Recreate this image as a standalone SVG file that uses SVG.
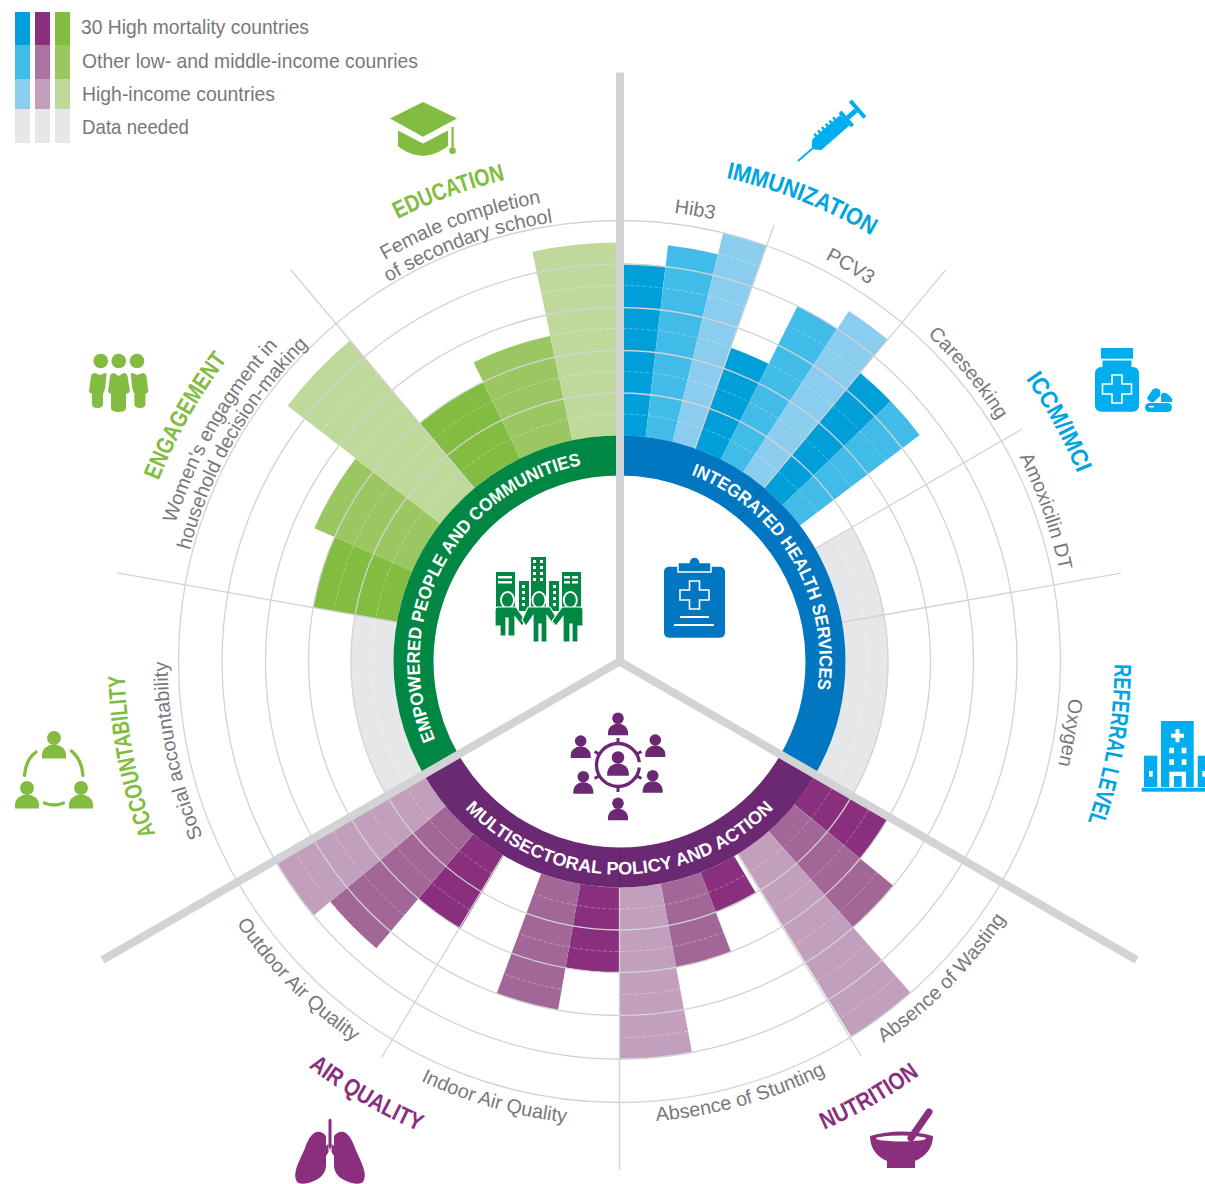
<svg xmlns="http://www.w3.org/2000/svg" width="1205" height="1184" viewBox="0 0 1205 1184">
<style>
.b{fill:none}
.bd{stroke:#009fda}.bm{stroke:#41bbe8}.bl{stroke:#8acdee}
.pd{stroke:#8a2f7e}.pm{stroke:#a26797}.pl{stroke:#c29fbd}
.gd{stroke:#82bc41}.gm{stroke:#9bc763}.gl{stroke:#bfd99a}
.na{stroke:#e6e7e8}
.grid{fill:none;stroke:#d1d3d4;stroke-width:1.3}
.half{fill:none;stroke:#fff;stroke-opacity:.45;stroke-width:.7;stroke-dasharray:4 2}
.spoke{stroke:#d1d3d4;stroke-width:1.3}
.thick{stroke:#d1d3d4;stroke-width:8}
.leg{font:21px "Liberation Sans",sans-serif;fill:#77787b}
.ring{font:bold 18px "Liberation Sans",sans-serif;fill:#fff;text-anchor:middle}
.cat{font:bold 24px "Liberation Sans",sans-serif;text-anchor:middle}
.lab{font:19.8px "Liberation Sans",sans-serif;fill:#77787b;text-anchor:middle}
.cb{fill:#00a4e0}.cp{fill:#8a2f7e}.cg{fill:#82bc41}
.ib{fill:#00aeef}.ip{fill:#8a2f7e}.ig{fill:#82bc41}
.wl{fill:none;stroke:#fff;stroke-width:1.6}
</style>
<defs>
<path id="t200" d="M-200 0A200 200 0 0 1 200 0"/>
<path id="b213" d="M-213 0A213 213 0 0 0 213 0"/>
<path id="t495" d="M-495 0A495 495 0 0 1 495 0"/>
<path id="b511" d="M-511 0A511 511 0 0 0 511 0"/>
<path id="t452" d="M-452 0A452 452 0 0 1 452 0"/>
<path id="t449" d="M-449 0A449 449 0 0 1 449 0"/>
<path id="t451" d="M-451 0A451 451 0 0 1 451 0"/>
<path id="t444" d="M-444 0A444 444 0 0 1 444 0"/>
<path id="t465" d="M-465 0A465 465 0 0 1 465 0"/>
<path id="b464" d="M-464 0A464 464 0 0 0 464 0"/>
<path id="b461" d="M-461 0A461 461 0 0 0 461 0"/>
<g id="person"><circle cx="0" cy="0" r="5.8"/><path d="M-10 17v-3a10 8.500 0 0 1 20 0v3z"/></g>
<path id="lung" d="M326 1136C318 1127 310 1133 305 1148C299 1162 293 1172 296 1180C298 1186 308 1184 316 1180C322 1177 326 1172 326 1165V1156L328.500 1152V1144L326 1146z"/>
<mask id="barMask" maskUnits="userSpaceOnUse" x="0" y="0" width="1205" height="1184" style="mask-type:alpha"><use href="#bars" transform="translate(619.5 661.5)"/></mask>
</defs>

<g id="legend">
<rect x="15" y="12" width="15" height="33" fill="#009fda"/><rect x="15" y="45" width="15" height="34" fill="#41bbe8"/><rect x="15" y="79" width="15" height="30" fill="#8acdee"/><rect x="15" y="109" width="15" height="34" fill="#e6e7e8"/>
<rect x="35" y="12" width="15" height="33" fill="#8a2f7e"/><rect x="35" y="45" width="15" height="34" fill="#ab749f"/><rect x="35" y="79" width="15" height="30" fill="#c29fbd"/><rect x="35" y="109" width="15" height="34" fill="#e6e7e8"/>
<rect x="55" y="12" width="15" height="33" fill="#82bc41"/><rect x="55" y="45" width="15" height="34" fill="#9bc763"/><rect x="55" y="79" width="15" height="30" fill="#bfd99a"/><rect x="55" y="109" width="15" height="34" fill="#e6e7e8"/>
<text class="leg" x="81" y="34" textLength="228" lengthAdjust="spacingAndGlyphs">30 High mortality countries</text>
<text class="leg" x="82" y="68" textLength="336" lengthAdjust="spacingAndGlyphs">Other low- and middle-income counries</text>
<text class="leg" x="82" y="101" textLength="193" lengthAdjust="spacingAndGlyphs">High-income countries</text>
<text class="leg" x="82" y="134" textLength="107" lengthAdjust="spacingAndGlyphs">Data needed</text>
</g>

<g id="chart" transform="translate(619.5 661.5)">
<g id="bars" class="b">
<g id="hib3"><circle class="bd" pathLength="360" r="312" stroke-width="172" stroke-dasharray="6.65 360" transform="rotate(-90)"/><circle class="bm" pathLength="360" r="322.5" stroke-width="193" stroke-dasharray="6.95 360" transform="rotate(-83.35)"/><circle class="bl" pathLength="360" r="333.5" stroke-width="215" stroke-dasharray="5.9 360" transform="rotate(-76.4)"/></g>
<g id="pcv3"><circle class="bd" pathLength="360" r="279.5" stroke-width="107" stroke-dasharray="7 360" transform="rotate(-70.4)"/><circle class="bm" pathLength="360" r="312" stroke-width="172" stroke-dasharray="6.6 360" transform="rotate(-63.4)"/><circle class="bl" pathLength="360" r="322.5" stroke-width="193" stroke-dasharray="6.6 360" transform="rotate(-56.8)"/></g>
<g id="careseeking"><circle class="bd" pathLength="360" r="301" stroke-width="150" stroke-dasharray="6.4 360" transform="rotate(-50.2)"/><circle class="bm" pathLength="360" r="301" stroke-width="150" stroke-dasharray="6.8 360" transform="rotate(-43.8)"/></g>
<circle id="nodata-right" class="na" pathLength="360" r="247.5" stroke-width="43" stroke-dasharray="60 360" transform="rotate(-30)"/>
<g id="wasting"><circle class="pd" pathLength="360" r="268.5" stroke-width="85" stroke-dasharray="9.3 360" transform="rotate(30)"/><circle class="pm" pathLength="360" r="290" stroke-width="128" stroke-dasharray="9.4 360" transform="rotate(39.3)"/><circle class="pl" pathLength="360" r="333.5" stroke-width="215" stroke-dasharray="9.6 360" transform="rotate(48.7)"/></g>
<g id="stunting"><circle class="pd" pathLength="360" r="247.5" stroke-width="43" stroke-dasharray="9.5 360" transform="rotate(59.5)"/><circle class="pm" pathLength="360" r="268.5" stroke-width="85" stroke-dasharray="10.5 360" transform="rotate(69)"/><circle class="pl" pathLength="360" r="312" stroke-width="172" stroke-dasharray="10.5 360" transform="rotate(79.5)"/></g>
<g id="indoor"><circle class="pd" pathLength="360" r="268.5" stroke-width="85" stroke-dasharray="10 360" transform="rotate(90)"/><circle class="pm" pathLength="360" r="290" stroke-width="128" stroke-dasharray="10.3 360" transform="rotate(100)"/></g>
<g id="outdoor"><circle class="pd" pathLength="360" r="268.5" stroke-width="85" stroke-dasharray="9.5 360" transform="rotate(120.8)"/><circle class="pm" pathLength="360" r="301" stroke-width="150" stroke-dasharray="10 360" transform="rotate(130.3)"/><circle class="pl" pathLength="360" r="312" stroke-width="172" stroke-dasharray="10 360" transform="rotate(140.3)"/></g>
<circle id="nodata-left" class="na" pathLength="360" r="247.5" stroke-width="43" stroke-dasharray="40 360" transform="rotate(150)"/>
<g id="women"><circle class="gd" pathLength="360" r="268.5" stroke-width="85" stroke-dasharray="13.6 360" transform="rotate(190)"/><circle class="gm" pathLength="360" r="279.5" stroke-width="107" stroke-dasharray="14 360" transform="rotate(203.6)"/><circle class="gl" pathLength="360" r="322.5" stroke-width="193" stroke-dasharray="12.4 360" transform="rotate(217.6)"/></g>
<g id="female"><circle class="gd" pathLength="360" r="268.5" stroke-width="85" stroke-dasharray="14 360" transform="rotate(230)"/><circle class="gm" pathLength="360" r="279.5" stroke-width="107" stroke-dasharray="14 360" transform="rotate(244)"/><circle class="gl" pathLength="360" r="322.5" stroke-width="193" stroke-dasharray="12 360" transform="rotate(258)"/></g>
</g>
</g>

<g id="half-lines" mask="url(#barMask)">
<circle class="half" cx="619.5" cy="661.5" r="247.5"/><circle class="half" cx="619.5" cy="661.5" r="290"/><circle class="half" cx="619.5" cy="661.5" r="333"/><circle class="half" cx="619.5" cy="661.5" r="376"/><circle class="half" cx="619.5" cy="661.5" r="419.5"/>
</g>

<g id="grid" transform="translate(619.5 661.5)">
<circle class="grid" r="268.500"/><circle class="grid" r="311"/><circle class="grid" r="354"/><circle class="grid" r="397.500"/><circle class="grid" r="441"/>
</g>

<g id="rings" class="b" transform="translate(619.5 661.5)">
<circle id="ring-integrated" pathLength="360" r="206" stroke-width="40" stroke="#0077c0" stroke-dasharray="120 360" transform="rotate(-90)"/>
<circle id="ring-multisectoral" pathLength="360" r="206" stroke-width="40" stroke="#6b2873" stroke-dasharray="120 360" transform="rotate(30)"/>
<circle id="ring-empowered" pathLength="360" r="206" stroke-width="40" stroke="#008744" stroke-dasharray="120 360" transform="rotate(150)"/>
</g>

<g id="connectors" transform="translate(619.5 661.5)">
<line class="spoke" y1="-226" y2="-463" transform="rotate(19.5)"/>
<line class="spoke" y1="-226" y2="-509" transform="rotate(39.8)"/>
<line class="spoke" y1="-226" y2="-465" transform="rotate(60)"/>
<line class="spoke" y1="-226" y2="-509" transform="rotate(80)"/>
<line class="spoke" y1="-226" y2="-463" transform="rotate(148.5)"/>
<line class="spoke" y1="-226" y2="-508.500" transform="rotate(180)"/>
<line class="spoke" y1="-226" y2="-462" transform="rotate(211)"/>
<line class="spoke" y1="-226" y2="-510" transform="rotate(280)"/>
<line class="spoke" y1="-226" y2="-512" transform="rotate(320)"/>
<line y1="-186" y2="-226" stroke="#005f99" stroke-width=".7" transform="rotate(39.8)"/>
<line y1="-186" y2="-226" stroke="#551f5c" stroke-width=".7" transform="rotate(180)"/>
<line y1="-186" y2="-226" stroke="#006b36" stroke-width=".7" transform="rotate(320)"/>
<line class="thick" x1=".5" y1="0" x2=".5" y2="-589"/>
<line class="thick" x1="0" y1="0" x2="517" y2="298.500"/>
<line class="thick" x1="0" y1="0" x2="-517" y2="298.500"/>
</g>

<g id="labels" transform="translate(619.5 661.5)">
<text class="ring" transform="rotate(59.5)"><textPath href="#t200" startOffset="50%" textLength="269" lengthAdjust="spacingAndGlyphs">INTEGRATED HEALTH SERVICES</textPath></text>
<text class="ring" transform="rotate(298)"><textPath href="#t200" startOffset="50%" textLength="356" lengthAdjust="spacingAndGlyphs">EMPOWERED PEOPLE AND COMMUNITIES</textPath></text>
<text class="ring"><textPath href="#b213" startOffset="50%" textLength="345" lengthAdjust="spacingAndGlyphs">MULTISECTORAL POLICY AND ACTION</textPath></text>

<text class="cat cb" transform="rotate(21.500)"><textPath href="#t495" startOffset="50%" textLength="157" lengthAdjust="spacingAndGlyphs">IMMUNIZATION</textPath></text>
<text class="cat cb" transform="rotate(61.400)"><textPath href="#t495" startOffset="50%" textLength="108" lengthAdjust="spacingAndGlyphs">ICCM/IMCI</textPath></text>
<text class="cat cb" transform="rotate(99.600)"><textPath href="#t495" startOffset="50%" textLength="161" lengthAdjust="spacingAndGlyphs">REFERRAL LEVEL</textPath></text>
<text class="cat cp" transform="rotate(-29.800)"><textPath href="#b511" startOffset="50%" textLength="110" lengthAdjust="spacingAndGlyphs">NUTRITION</textPath></text>
<text class="cat cp" transform="rotate(30.300)"><textPath href="#b511" startOffset="50%" textLength="128" lengthAdjust="spacingAndGlyphs">AIR QUALITY</textPath></text>
<text class="cat cg" transform="rotate(259)"><textPath href="#t495" startOffset="50%" textLength="163" lengthAdjust="spacingAndGlyphs">ACCOUNTABILITY</textPath></text>
<text class="cat cg" transform="rotate(299.500)"><textPath href="#t495" startOffset="50%" textLength="140" lengthAdjust="spacingAndGlyphs">ENGAGEMENT</textPath></text>
<text class="cat cg" transform="rotate(340)"><textPath href="#t495" startOffset="50%" textLength="115" lengthAdjust="spacingAndGlyphs">EDUCATION</textPath></text>

<text class="lab" transform="rotate(9.500)"><textPath href="#t452" startOffset="50%">Hib3</textPath></text>
<text class="lab" transform="rotate(30.300)"><textPath href="#t452" startOffset="50%">PCV3</textPath></text>
<text class="lab" transform="rotate(50.400)"><textPath href="#t449" startOffset="50%">Careseeking</textPath></text>
<text class="lab" transform="rotate(70.600)"><textPath href="#t449" startOffset="50%">Amoxicilin DT</textPath></text>
<text class="lab" transform="rotate(99)"><textPath href="#t451" startOffset="50%">Oxygen</textPath></text>
<text class="lab" transform="rotate(-45.500)"><textPath href="#b464" startOffset="50%">Absence of Wasting</textPath></text>
<text class="lab" transform="rotate(-15.600)"><textPath href="#b461" startOffset="50%">Absence of Stunting</textPath></text>
<text class="lab" transform="rotate(16)"><textPath href="#b464" startOffset="50%">Indoor Air Quality</textPath></text>
<text class="lab" transform="rotate(45.300)"><textPath href="#b464" startOffset="50%">Outdoor Air Quality</textPath></text>
<text class="lab" transform="rotate(258.600)"><textPath href="#t452" startOffset="50%">Social accountability</textPath></text>
<text class="lab" transform="rotate(300)"><textPath href="#t465" startOffset="50%">Women's engagment in</textPath></text>
<text class="lab" transform="rotate(300)"><textPath href="#t444" startOffset="50%">household decision-making</textPath></text>
<text class="lab" transform="rotate(340)"><textPath href="#t465" startOffset="50%">Female completion</textPath></text>
<text class="lab" transform="rotate(340)"><textPath href="#t444" startOffset="50%">of secondary school</textPath></text>
</g>

<g id="icon-clipboard">
<rect x="664" y="566.700" width="61" height="71" rx="5" fill="#0077c0"/>
<path d="M678 572V562.500H689A5.500 5.500 0 0 1 700 562.500H711V572z" fill="#0077c0" stroke="#fff" stroke-width="1.5"/>
<path class="wl" d="M689.500 581h10v9h9.500v10h-9.500v9h-10v-9h-9.500v-10h9.500z"/>
<rect x="680" y="616" width="29" height="2" fill="#fff"/><rect x="674" y="624" width="40" height="2" fill="#fff"/>
</g>

<g id="icon-community" fill="#008744">
<rect x="496" y="572" width="19" height="40"/><rect x="519" y="581" width="10" height="30"/><rect x="531" y="557" width="15" height="50"/><rect x="549" y="581" width="10" height="30"/><rect x="562" y="572" width="19" height="40"/>
<g fill="#fff"><rect x="498" y="576" width="14" height="2.500"/><rect x="498" y="581" width="14" height="2.500"/>
<rect x="564" y="576" width="6" height="2.500"/><rect x="572" y="576" width="6" height="2.500"/><rect x="564" y="581" width="6" height="2.500"/><rect x="572" y="581" width="6" height="2.500"/>
<rect x="533" y="560" width="3" height="3"/><rect x="540" y="560" width="3" height="3"/><rect x="533" y="566" width="3" height="3"/><rect x="540" y="566" width="3" height="3"/><rect x="533" y="572" width="3" height="3"/><rect x="540" y="572" width="3" height="3"/><rect x="533" y="578" width="3" height="3"/><rect x="540" y="578" width="3" height="3"/>
<rect x="522" y="585" width="3" height="3"/><rect x="522" y="591" width="3" height="3"/><rect x="522" y="597" width="3" height="3"/><rect x="522" y="603" width="3" height="3"/>
<rect x="553" y="585" width="3" height="3"/><rect x="553" y="591" width="3" height="3"/><rect x="553" y="597" width="3" height="3"/><rect x="553" y="603" width="3" height="3"/></g>
<g stroke="#fff" stroke-width="1.800"><ellipse cx="507.500" cy="600" rx="6.500" ry="8"/><ellipse cx="539" cy="600" rx="6.500" ry="8"/><ellipse cx="570.300" cy="600" rx="6.500" ry="8"/>
<path stroke-width="1.200" d="M495 610q0-3 3-3h18l10 14-4 5-7-9v19h-7v-18h-2v18h-6V626h-5z"/>
<path stroke-width="1.200" d="M528 607h22l8 13-4 6-7-10v26h-6v-18h-2v18h-6V616l-7 10-4-6z"/>
<path stroke-width="1.200" d="M583 610q0-3-3-3h-18l-10 14 4 5 7-9v25h7v-18h2v18h6V626h5z"/></g>
</g>

<g id="icon-multisectoral" fill="#6b2873">
<use href="#person" x="618" y="718.300"/><use href="#person" x="580.700" y="741"/><use href="#person" x="655.300" y="740"/><use href="#person" x="583.300" y="776.700"/><use href="#person" x="652.700" y="775.700"/><use href="#person" x="618" y="803.300"/>
<use href="#person" transform="translate(618 757.500) scale(1.080)"/>
<circle cx="618" cy="765" r="21.500" fill="none" stroke="#6b2873" stroke-width="3.300" pathLength="360" stroke-dasharray="345 15" stroke-dashoffset="-7"/>
<g stroke="#6b2873" stroke-width="3" transform="translate(618 765)"><line y1="-21" y2="-27"/><line y1="-21" y2="-27" transform="rotate(60)"/><line y1="-21" y2="-27" transform="rotate(120)"/><line y1="-21" y2="-27" transform="rotate(180)"/><line y1="-21" y2="-27" transform="rotate(240)"/><line y1="-21" y2="-27" transform="rotate(300)"/></g>
</g>

<g id="icon-education" class="ig">
<path d="M423 102L457 118.500L423 136.700L390 118.500z"/>
<path d="M398 130.500L423 143.500L448 130.500V146C440 152 432 155.700 423 155.700C414 155.700 405 152 398 146z"/>
<rect x="451.500" y="127" width="2.200" height="23"/><circle cx="452.500" cy="150.700" r="3.300"/>
</g>

<g id="icon-immunization" class="ib" transform="translate(798 161) rotate(-41)">
<rect x="0" y="-.9" width="21" height="1.800"/><path d="M20-2L25-7H62V7H25L20 2z"/>
<rect x="29" y="-10" width="2.500" height="4"/><rect x="34" y="-10" width="2.500" height="4"/><rect x="39" y="-10" width="2.500" height="4"/><rect x="44" y="-10" width="2.500" height="4"/><rect x="49" y="-10" width="2.500" height="4"/><rect x="54" y="-10" width="2.500" height="4"/>
<rect x="62" y="-9.500" width="4" height="19"/><rect x="66" y="-2.500" width="11" height="5"/><rect x="77" y="-11" width="4" height="22"/>
</g>

<g id="icon-iccm" class="ib">
<rect x="1101" y="348" width="32" height="10.700"/><rect x="1102.500" y="360.500" width="29" height="9"/>
<rect x="1095" y="367" width="44" height="44.700" rx="6"/>
<path class="wl" d="M1112 375h10v9h9.500v10h-9.500v9h-10v-9h-9.500v-10h9.500z"/>
<rect x="1145" y="403" width="27" height="9" rx="4.500"/>
<path d="M1147 398L1153 389Q1157 387 1160 390Q1161 393 1160 396L1154 402Q1149 403 1147 398z"/>
<path d="M1161 396Q1161 392 1166 393L1170 396Q1173 399 1172 402H1161z"/>
<rect x="1149" y="406" width="5" height="1.500" fill="#fff"/>
</g>

<g id="icon-referral" class="ib">
<rect x="1161" y="721" width="32.700" height="66"/><rect x="1144" y="755.700" width="13.300" height="31.300"/><rect x="1197.700" y="755.700" width="7.300" height="31.300"/><rect x="1141.700" y="787.700" width="63.300" height="4"/>
<g fill="#fff"><path d="M1175.500 729.200h4v4.500h4.500v4h-4.500v4.500h-4v-4.500h-4.500v-4h4.500z"/>
<rect x="1169.300" y="747.700" width="4.700" height="5.600"/><rect x="1181.700" y="747.700" width="4.700" height="5.600"/><rect x="1169.300" y="759.300" width="4.700" height="5.600"/><rect x="1181.700" y="759.300" width="4.700" height="5.600"/>
<path d="M1169.300 787V771.700H1186V787H1181.700V776H1174V787z"/>
<rect x="1149" y="771" width="3.700" height="5.700"/><rect x="1202.300" y="771" width="2.700" height="5.700"/></g>
</g>

<g id="icon-accountability" class="ig">
<use href="#person" transform="translate(54 738) scale(1.200)"/><use href="#person" transform="translate(27 788) scale(1.200)"/><use href="#person" transform="translate(81 788) scale(1.200)"/>
<g fill="none" stroke="#82bc41" stroke-width="3.300" stroke-linecap="round"><path d="M24.500 775.500Q25.500 760 36 752"/><path d="M83 775.500Q82 760 71.500 751"/><path d="M44.500 803Q54 807 63.500 803"/></g>
</g>

<g id="icon-engagement" class="ig">
<circle cx="100.700" cy="361" r="7.300"/><circle cx="118.700" cy="361" r="7.300"/><circle cx="137" cy="361" r="7.300"/>
<path d="M108 392L110 376Q111 373 114 373L118.700 376L123.500 373Q126.500 373 127.500 376L130 392L126 394V408Q126 412 118.700 412Q111 412 111 408V394z"/>
<path id="eng-side" d="M89 392L91 376Q92 373 95 373L100 375L105 373Q107 373 106.500 375L105 389L103 394V404Q103 408 97.500 408Q92 408 92 404V394z"/>
<use href="#eng-side" transform="translate(237.400 0) scale(-1 1)"/>
</g>

<g id="icon-airquality" class="ip">
<use href="#lung"/><use href="#lung" transform="translate(660 0) scale(-1 1)"/>
<path d="M328.500 1120Q330 1117 331.500 1120V1146L330 1150L328.500 1146z"/>
</g>

<g id="icon-nutrition" class="ip">
<path d="M870 1136Q901 1127 933 1136C933 1148 925 1157 915 1161V1168H887V1161C877 1157 870 1148 870 1136z"/>
<ellipse cx="901" cy="1138.500" rx="25" ry="3" fill="#fff"/>
<line x1="911" y1="1138" x2="929" y2="1112" stroke="#8a2f7e" stroke-width="7" stroke-linecap="round"/>
</g>
</svg>
